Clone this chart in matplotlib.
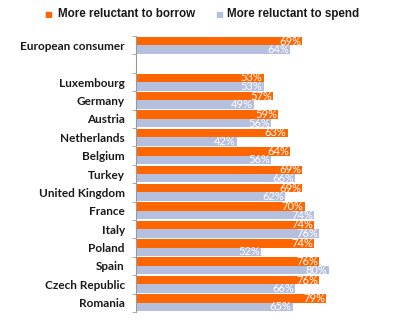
import matplotlib
matplotlib.use("Agg")
import matplotlib.pyplot as plt
import numpy as np

# data (top to bottom)
categories = ["European consumer", "", "Luxembourg", "Germany", "Austria",
              "Netherlands", "Belgium", "Turkey", "United Kingdom", "France",
              "Italy", "Poland", "Spain", "Czech Republic", "Romania"]
borrow = [69, None, 53, 57, 59, 63, 64, 69, 69, 70, 74, 74, 76, 76, 79]
spend = [64, None, 53, 49, 56, 42, 56, 66, 62, 74, 76, 52, 80, 66, 65]
series_names = ["More reluctant to borrow", "More reluctant to spend"]

orange = "#FF6600"
blue = "#B4C0DE"

fig = plt.figure(figsize=(4.13, 3.28), dpi=100)
ax = fig.add_axes([0.329, 0.049, 0.584, 0.841])

y = np.arange(len(categories))
h = 0.46
for i, (b, s) in enumerate(zip(borrow, spend)):
    if b is None:
        continue
    ax.barh(y[i] - h / 2, b, height=h, color=orange)
    ax.barh(y[i] + h / 2, s, height=h, color=blue)
    ax.text(b - 0.5, y[i] - h / 2, f"{b}%", color="white", ha="right",
            va="center", fontsize=8, family="Lato")
    ax.text(s - 0.5, y[i] + h / 2, f"{s}%", color="white", ha="right",
            va="center", fontsize=8, family="Lato")

ax.set_ylim(len(categories) - 0.5, -0.5)
ax.set_xlim(0, 100)
ax.set_yticks(y)
ax.set_yticklabels(categories, fontsize=8.5, fontweight="bold",
                   family="Lato", color="#1a1a1a")
ax.tick_params(axis="y", which="major", length=0, pad=8)
ax.set_yticks(np.arange(-0.5, len(categories)), minor=True)
ax.tick_params(axis="y", which="minor", length=3, color="#999999")
ax.set_xticks([])
for side in ["top", "right", "bottom"]:
    ax.spines[side].set_visible(False)
ax.spines["left"].set_color("#999999")

# legend
fig.text(0.108, 0.955, "\u25a0", color=orange, fontsize=6, va="center")
fig.text(0.140, 0.957, series_names[0], fontsize=8.4, fontweight="bold",
         family="Liberation Sans", va="center", color="#1a1a1a")
fig.text(0.520, 0.955, "\u25a0", color=blue, fontsize=6, va="center")
fig.text(0.550, 0.957, series_names[1], fontsize=8.4, fontweight="bold",
         family="Liberation Sans", va="center", color="#1a1a1a")

fig.savefig("out.png", dpi=100)
